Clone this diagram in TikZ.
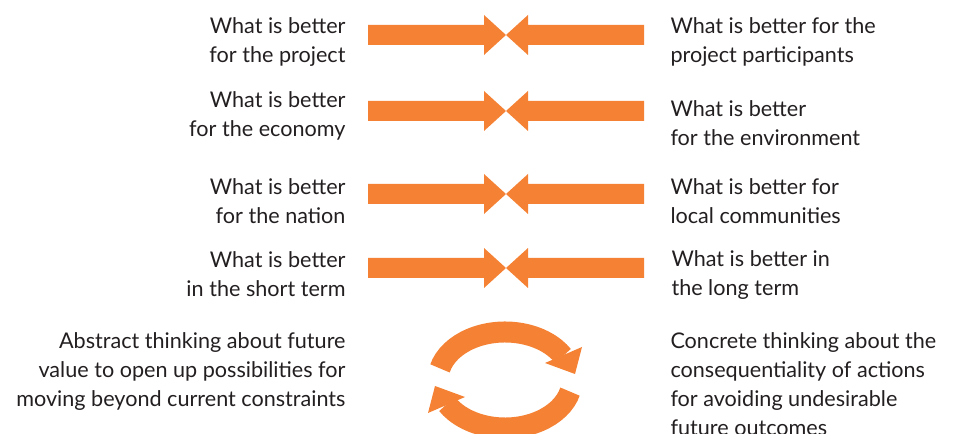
\documentclass[tikz,border=0pt]{standalone}
\usepackage{fontspec}
\setmainfont{Lato}
\definecolor{arrowOrange}{RGB}{244,129,52}
\definecolor{textGrey}{RGB}{35,31,32}
\tikzset{every picture/.style={line width=0.75pt}}
\tikzset{
	leftText/.style={anchor=east, align=right, inner sep=0pt, text=textGrey,
		font=\fontsize{16.2}{21.75}\selectfont},
	rightText/.style={anchor=west, align=left, inner sep=0pt, text=textGrey,
		font=\fontsize{16.2}{21.75}\selectfont},
	arrowFill/.style={fill=arrowOrange, draw=none},
	cycleArc/.style={draw=arrowOrange, line width=15.75pt}}
\begin{document}
\begin{tikzpicture}[x=0.75pt,y=0.75pt,yscale=-1,xscale=1]
	\useasboundingbox (0,0) rectangle (954,434);

	%Shape: Right Arrow, row 1
	\fill[arrowFill] (368,25) -- (484,25) -- (484,15) -- (506,35) -- (484,55) -- (484,45) -- (368,45) -- cycle;
	%Shape: Left Arrow, row 1
	\fill[arrowFill] (644,25) -- (528,25) -- (528,15) -- (506,35) -- (528,55) -- (528,45) -- (644,45) -- cycle;
	%Shape: Right Arrow, row 2
	\fill[arrowFill] (368,101) -- (484,101) -- (484,91) -- (506,111) -- (484,131) -- (484,121) -- (368,121) -- cycle;
	%Shape: Left Arrow, row 2
	\fill[arrowFill] (644,101) -- (528,101) -- (528,91) -- (506,111) -- (528,131) -- (528,121) -- (644,121) -- cycle;
	%Shape: Right Arrow, row 3
	\fill[arrowFill] (368,184) -- (484,184) -- (484,174) -- (506,194) -- (484,214) -- (484,204) -- (368,204) -- cycle;
	%Shape: Left Arrow, row 3
	\fill[arrowFill] (644,184) -- (528,184) -- (528,174) -- (506,194) -- (528,214) -- (528,204) -- (644,204) -- cycle;
	%Shape: Right Arrow, row 4
	\fill[arrowFill] (368,258) -- (484,258) -- (484,248) -- (506,268) -- (484,288) -- (484,278) -- (368,278) -- cycle;
	%Shape: Left Arrow, row 4
	\fill[arrowFill] (644,258) -- (528,258) -- (528,248) -- (506,268) -- (528,288) -- (528,278) -- (644,278) -- cycle;

	%Curve Lines: upper half of the cycle
	\draw[cycleArc] (505,380) ++(194:67 and 48) arc[start angle=194, end angle=330, x radius=67, y radius=48];
	\fill[arrowFill] (545,363) -- (582,347) -- (575,374) -- cycle;
	%Curve Lines: lower half of the cycle
	\draw[cycleArc] (505,380) ++(14:67 and 48) arc[start angle=14, end angle=150, x radius=67, y radius=48];
	\fill[arrowFill] (465,397) -- (428,413) -- (435,386) -- cycle;

	% Text Node
	\node[leftText] (projectL) at (346,42) {What is better\\for the project};
	% Text Node
	\node[rightText] (projectR) at (670,42) {What is better for the\\project participants};
	% Text Node
	\node[leftText] (economyL) at (346,116) {What is better\\for the economy};
	% Text Node
	\node[rightText] (environR) at (670,123) {What is better\\for the environment};
	% Text Node
	\node[leftText] (nationL) at (346,201) {What is better\\for the nation};
	% Text Node
	\node[rightText] (localR) at (670,201) {What is better for\\local communities};
	% Text Node
	\node[leftText] (shortL) at (346,274) {What is better\\in the short term};
	% Text Node
	\node[rightText] (longR) at (671,275) {What is better in\\the long term};
	% Text Node
	\node[leftText] (abstractL) at (346,372) {Abstract thinking about future\\value to open up possibilities for\\moving beyond current constraints};
	% Text Node
	\node[rightText, anchor=north west] (concreteR) at (670,332) {Concrete thinking about the\\consequentiality of actions\\for avoiding undesirable\\future outcomes};

\end{tikzpicture}
\end{document}
